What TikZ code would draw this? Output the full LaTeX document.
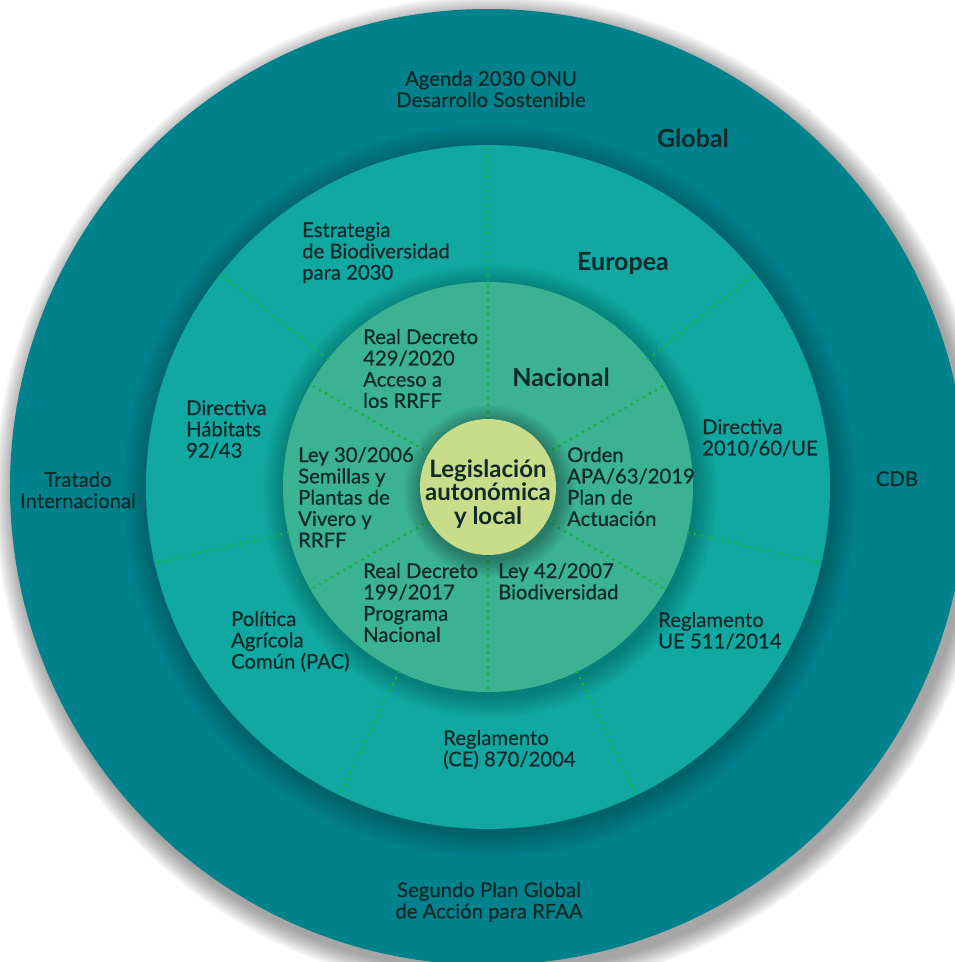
\documentclass[tikz,border=0pt]{standalone}
\usepackage{fontspec}
\setmainfont{Lato}
\newfontfamily\itemfont{Lato}[FakeBold=0.6]
\usetikzlibrary{positioning,calc}
\definecolor{global teal}{HTML}{00828D}
\definecolor{europe teal}{HTML}{10A8A1}
\definecolor{nation green}{HTML}{3BB393}
\definecolor{local lime}{HTML}{C9DC8A}
\definecolor{ink dark}{HTML}{10292A}
\definecolor{dot green}{HTML}{12B540}
\tikzset{
    % Rings
    ring shadow/.style={black,opacity=#1},
    ring shadow/.default=.03,
    divider/.style={dot green,line width=3.3pt,line cap=round,dash pattern=on 0pt off 7pt},
    %
    % Labels
    item label/.style={font=\itemfont\fontsize{20.3}{21.3}\selectfont,text=ink dark,align=left,inner sep=0pt},
    scope label/.style={item label,align=center},
    level label/.style={font=\fontsize{25}{28}\selectfont\bfseries,text=ink dark,inner sep=0pt},
    core label/.style={font=\fontsize{24}{23.8}\selectfont\bfseries,text=ink dark,align=center,inner sep=0pt}
}

\begin{document}
\begin{tikzpicture}[x=1pt,y=1pt]
    \useasboundingbox (-488,-475) rectangle (467,487);
    \coordinate (c) at (0,0);

    % outer ring and its shadow
    \foreach \i in {1,...,12}
        \fill[ring shadow=.035] (5,-7) circle (478+\i*1.7);
    \fill[global teal] (c) circle (478);

    % europe ring
    \foreach \i in {1,...,10}
        \fill[ring shadow=.025] (2,-4) circle (342+\i*2.5);
    \fill[europe teal] (c) circle (342);

    % national ring
    \foreach \i in {1,...,10}
        \fill[ring shadow=.025] (2,-4) circle (205+\i*2.2);
    \fill[nation green] (c) circle (205);

    % dividers
    \foreach \k in {0,...,6}
        \draw[divider] ({90+\k*360/7}:205) -- ({90+\k*360/7}:342);
    \foreach \a in {30,90,...,330}
        \draw[divider] (\a:68) -- (\a:205);

    % core
    \foreach \i in {1,...,10}
        \fill[ring shadow=.03] (2,-4) circle (68+\i*1.8);
    \fill[local lime] (c) circle (68);
    \node[core label] (core) at (0,-7) {Legislación\\autonómica\\y local};

    % global level
    \node[scope label] (agenda) at (3,398) {Agenda 2030 ONU\\Desarrollo Sostenible};
    \node[level label,anchor=base] (global) at (205,339) {Global};
    \node[scope label] (tratado) at (-410,-3) {Tratado\\Internacional};
    \node[item label,anchor=base] (cdb) at (409,1) {CDB};
    \node[scope label] (segundo) at (1,-415) {Segundo Plan Global\\de Acción para RFAA};

    % european level (base = last line)
    \node[level label,anchor=base] (europea) at (135,217) {Europea};
    \node[item label,anchor=base west] (estrategia) at (-186,207.4) {Estrategia\\de Biodiversidad\\para 2030};
    \node[item label,anchor=base west] (habitats) at (-302,29.4) {Directiva\\Hábitats\\92/43};
    \node[item label,anchor=base west] (dir2010) at (214,31.7) {Directiva\\2010/60/UE};
    \node[item label,anchor=base west] (pac) at (-257,-181.6) {Política\\Agrícola\\Común (PAC)};
    \node[item label,anchor=base west] (regue) at (170,-161.3) {Reglamento\\UE 511/2014};
    \node[item label,anchor=base west] (regce) at (-45,-279.3) {Reglamento\\(CE) 870/2004};

    % national level
    \node[level label,anchor=base] (nacional) at (73,101) {Nacional};
    \node[item label,anchor=base west] (rd429) at (-125,79.1) {Real Decreto\\429/2020\\Acceso a\\los RRFF};
    \node[item label,anchor=base west] (ley30) at (-190,-60.2) {Ley 30/2006\\Semillas y\\Plantas de\\Vivero y\\RRFF};
    \node[item label,anchor=base west] (orden) at (79,-38.9) {Orden\\APA/63/2019\\Plan de\\Actuación};
    \node[item label,anchor=base west] (rd199) at (-125,-154.9) {Real Decreto\\199/2017\\Programa\\Nacional};
    \node[item label,anchor=base west] (ley42) at (10,-112.3) {Ley 42/2007\\Biodiversidad};
\end{tikzpicture}
\end{document}
